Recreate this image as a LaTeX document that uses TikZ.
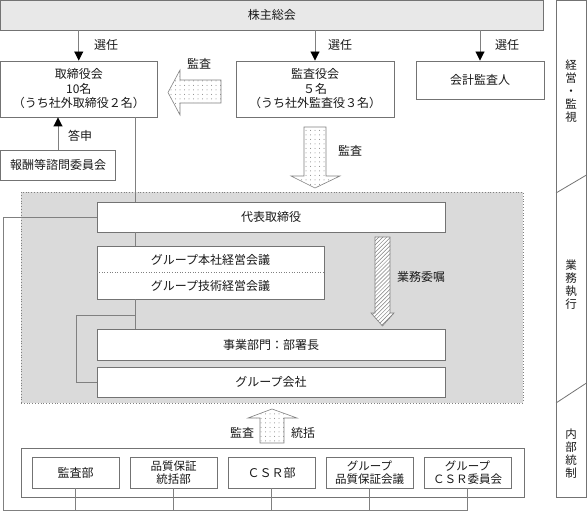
\documentclass[tikz,border=0pt]{standalone}
\usepackage{fontspec}
\setmainfont{Noto Sans CJK JP}
\usetikzlibrary{arrows.meta,patterns.meta}
\definecolor{ln}{RGB}{128,128,128}
\definecolor{bd}{RGB}{115,115,115}
\definecolor{hd}{RGB}{232,232,232}
\definecolor{rg}{RGB}{218,218,218}
\definecolor{tx}{RGB}{25,25,25}
\newcommand\jpf{\fontsize{12pt}{14.5pt}\selectfont}
\newcommand\jps{\fontsize{11.5pt}{13pt}\selectfont}
\newcommand\jpt{\fontsize{11.5pt}{13pt}\selectfont}
\begin{document}
\begin{tikzpicture}[x=1pt,y=-1pt,
  box/.style={draw=bd,line width=0.9pt,fill=white,inner sep=0pt,align=center,text=tx,font=\jpf},
  txt/.style={inner sep=0pt,align=center,text=tx,font=\jpf},
  conn/.style={draw=ln,line width=0.9pt},
  arr/.style={conn,-{Triangle[length=9pt,width=9pt,color=black]}},
  bigarr/.style={draw=ln,line width=0.6pt,fill=white},
  dotfill/.style={postaction={pattern={Dots[distance=4.5pt,radius=0.5pt]},pattern color=ln}},
  hatchfill/.style={postaction={pattern={Lines[angle=45,distance=2.8pt,line width=0.5pt]},pattern color=ln}},
  ]
\useasboundingbox (0,0) rectangle (587,513);
% regions
\node[draw=ln,dotted,line width=0.8pt,fill=rg,minimum width=502pt,minimum height=211pt,inner sep=0pt] (exec) at (272,297.5) {};
\node[draw=bd,line width=0.9pt,minimum width=503pt,minimum height=49pt,inner sep=0pt] (ctrl) at (272.5,472.5) {};
% side column
\draw[draw=bd,line width=0.9pt] (556,0.5) rectangle (586.5,497);
\coordinate (d1a) at (556,193); \coordinate (d1b) at (586.5,175);
\coordinate (d2a) at (556,403); \coordinate (d2b) at (586.5,383);
\draw[draw=bd,line width=0.8pt] (d1a) -- (d1b);
\draw[draw=bd,line width=0.8pt] (d2a) -- (d2b);
\node[txt,font=\jps] (s1) at (571,91) {経\\営\\・\\監\\視};
\node[txt,font=\jps] (s2) at (571,285) {業\\務\\執\\行};
\node[txt,font=\jps] (s3) at (571,454) {内\\部\\統\\制};
% top
\node[box,fill=hd,minimum width=542.5pt,minimum height=29.5pt] (soukai) at (271.75,15.25) {株主総会};
\node[box,minimum width=156.5pt,minimum height=56pt] (tori) at (78.75,89) {取締役会\\10名\\（うち社外取締役２名）};
\node[box,minimum width=158pt,minimum height=56pt] (kansa) at (315,89) {監査役会\\５名\\（うち社外監査役３名）};
\node[box,minimum width=128pt,minimum height=38pt] (kaikei) at (480,80) {会計監査人};
\node[box,minimum width=115.5pt,minimum height=30pt] (houshu) at (58,165) {報酬等諮問委員会};
% execution
\node[box,minimum width=348pt,minimum height=30pt] (daihyo) at (271,217) {代表取締役};
\node[box,minimum width=227pt,minimum height=53pt] (gk) at (210.5,272.5) {};
\draw[draw=ln,dotted,line width=0.6pt] (gk.west) -- (gk.east);
\node[txt] (gk1) at (210.5,259.5) {グループ本社経営会議};
\node[txt] (gk2) at (210.5,286) {グループ技術経営会議};
\node[box,minimum width=348pt,minimum height=31pt] (jigyo) at (271,344.5) {事業部門：部署長};
\node[box,minimum width=348pt,minimum height=30pt] (gkaisha) at (271,382) {グループ会社};
% internal control
\node[box,minimum width=87pt,minimum height=31pt] (b1) at (75.5,472.5) {監査部};
\node[box,minimum width=87pt,minimum height=31pt,font=\jpt] (b2) at (173.5,472.5) {品質保証\\統括部};
\node[box,minimum width=87pt,minimum height=31pt] (b3) at (271.5,472.5) {ＣＳＲ部};
\node[box,minimum width=87pt,minimum height=31pt,font=\jpt] (b4) at (369.5,472.5) {グループ\\品質保証会議};
\node[box,minimum width=87pt,minimum height=31pt,font=\jpt] (b5) at (467.5,472.5) {グループ\\ＣＳＲ委員会};
% arrows from general meeting
\draw[arr] (soukai.south -| tori.north) -- (tori.north);
\draw[arr] (soukai.south -| kansa.north) -- (kansa.north);
\draw[arr] (soukai.south -| kaikei.north) -- (kaikei.north);
\node[txt] (l1) at (106,45) {選任};
\node[txt] (l2) at (340,45) {選任};
\node[txt] (l3) at (507,45) {選任};
\draw[arr] (houshu.north) -- (houshu.north |- tori.south);
\node[txt] (l4) at (80,136) {答申};
% connectors
\coordinate (v) at (135,0);
\draw[conn] (v |- tori.south) -- (v |- daihyo.north);
\draw[conn] (v |- daihyo.south) -- (v |- gk.north);
\draw[conn] (v |- gk.south) -- (v |- jigyo.north);
\coordinate (br) at (135,315);
\coordinate (bl) at (76,315);
\draw[conn] (br) -- (bl) -- (bl |- gkaisha.west) -- (gkaisha.west);
\coordinate (o1) at (3,0);
\coordinate (ob) at (0,510);
\draw[conn] (daihyo.west) -- (o1 |- daihyo.west) -- (o1 |- ob) -- (b5.south |- ob);
\foreach \n in {b1,b2,b3,b4,b5} \draw[conn] (\n.south) -- (\n.south |- ob);
% big arrows
\draw[bigarr,dotfill] (221,80) -- (180,80) -- (180,70) -- (168,92.5) -- (180,115) -- (180,103) -- (221,103) -- cycle;
\node[txt] (l5) at (199,64) {監査};
\draw[bigarr,dotfill] (304,127) -- (326,127) -- (326,176) -- (340,176) -- (315,188) -- (291,176) -- (304,176) -- cycle;
\node[txt] (l6) at (350,151) {監査};
\draw[bigarr,hatchfill] (375,237) -- (390,237) -- (390,313) -- (394,313) -- (382.5,326) -- (371,313) -- (375,313) -- cycle;
\node[txt] (l7) at (421,277) {業務委嘱};
\draw[bigarr,dotfill] (260,443) -- (284,443) -- (284,418) -- (297,418) -- (272,409) -- (248,418) -- (260,418) -- cycle;
\node[txt] (l8) at (242,433) {監査};
\node[txt] (l9) at (303,433) {統括};
\end{tikzpicture}
\end{document}
